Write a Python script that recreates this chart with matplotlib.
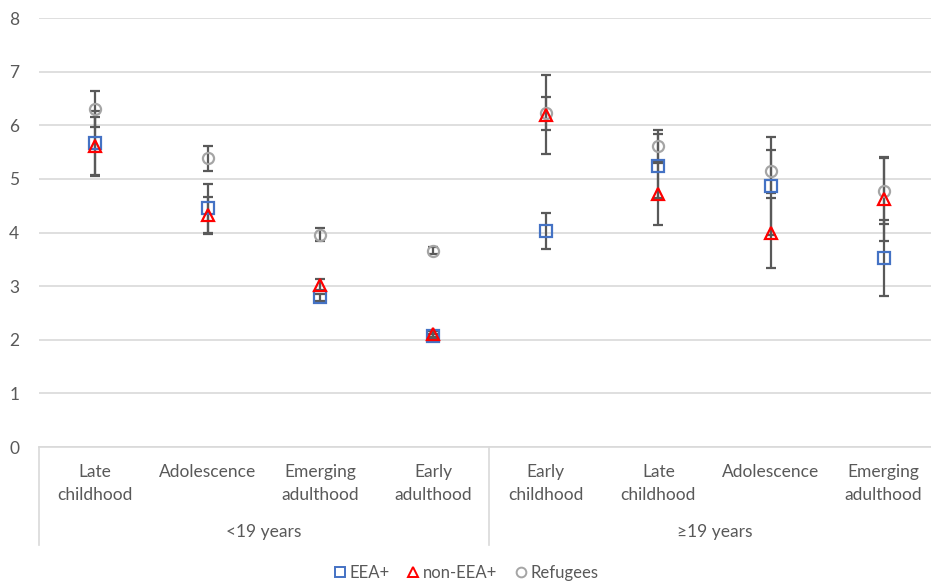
import matplotlib
matplotlib.use("Agg")
import matplotlib.pyplot as plt
from matplotlib.lines import Line2D

plt.rcParams['font.family'] = ['Lato', 'DejaVu Sans']

categories = ["Late\nchildhood", "Adolescence", "Emerging\nadulthood", "Early\nadulthood",
              "Early\nchildhood", "Late\nchildhood", "Adolescence", "Emerging\nadulthood"]
groups = ["<19 years", "\u226519 years"]
group_size = 4

eea = [5.67, 4.45, 2.79, 2.07, 4.03, 5.24, 4.87, 3.53]
eea_err = [0.60, 0.45, 0.07, 0.04, 0.33, 0.60, 0.92, 0.71]
non_eea = [5.61, 4.32, 3.03, 2.11, 6.20, 4.72, 3.99, 4.62]
non_eea_err = [0.55, 0.34, 0.10, 0.05, 0.74, 0.58, 0.66, 0.78]
refugees = [6.30, 5.38, 3.96, 3.66, 6.22, 5.62, 5.14, 4.77]
refugees_err = [0.33, 0.23, 0.12, 0.07, 0.30, 0.30, 0.40, 0.62]

txt_clr = "#595959"
grid_clr = "#D9D9D9"
err_clr = "#595959"

W, H = 931, 585
fig = plt.figure(figsize=(W / 100, H / 100), dpi=100)
# plot area runs past the right edge like the cropped original
ax = fig.add_axes([38.6 / W, (H - 447) / H, (940 - 38.6) / W, (447 - 18) / H])

xs = list(range(len(categories)))

series = [
    (eea, eea_err, "s", "#4472C4", "EEA+"),
    (refugees, refugees_err, "o", "#A5A5A5", "Refugees"),
    (non_eea, non_eea_err, "^", "#FF0000", "non-EEA+"),
]

for vals, errs, mk, clr, name in series:
    ax.errorbar(xs, vals, yerr=errs, fmt="none", ecolor=err_clr, elinewidth=1.6,
                capsize=3.8, capthick=1.6, zorder=2)
for vals, errs, mk, clr, name in series:
    ax.plot(xs, vals, linestyle="none", marker=mk, markersize=8, markerfacecolor="none",
            markeredgecolor=clr, markeredgewidth=1.6, zorder=3)

ax.set_xlim(-0.5, len(categories) - 0.5)
ax.set_ylim(0, 8)
ax.set_yticks(range(0, 9))
ax.yaxis.grid(True, color=grid_clr, linewidth=1.2)
ax.set_axisbelow(True)
for s in ["top", "right", "left"]:
    ax.spines[s].set_visible(False)
ax.spines["bottom"].set_color(grid_clr)
ax.spines["bottom"].set_linewidth(1.2)
ax.tick_params(axis="y", length=0, labelsize=12.5, labelcolor=txt_clr, pad=14)
ax.set_xticks([])

# category labels and group labels below the axis
ax_h = 447 - 18
for i, lab in enumerate(categories):
    ax.text(i, -17 / ax_h, lab, transform=ax.get_xaxis_transform(), ha="center", va="top",
            fontsize=12.5, color=txt_clr, linespacing=1.5)
for g, lab in enumerate(groups):
    mid = g * group_size + (group_size - 1) / 2
    ax.text(mid, -85 / ax_h, lab, transform=ax.get_xaxis_transform(), ha="center",
            va="center", fontsize=12.5, color=txt_clr)
for g in range(len(groups) + 1):
    xb = g * group_size - 0.5
    ax.plot([xb, xb], [0, -98 / ax_h], transform=ax.get_xaxis_transform(), color=grid_clr,
            linewidth=1.2, clip_on=False)

handles = [Line2D([], [], linestyle="none", marker="s", markersize=7, markerfacecolor="none",
                  markeredgecolor="#4472C4", markeredgewidth=1.4, label="EEA+"),
           Line2D([], [], linestyle="none", marker="^", markersize=7, markerfacecolor="none",
                  markeredgecolor="#FF0000", markeredgewidth=1.4, label="non-EEA+"),
           Line2D([], [], linestyle="none", marker="o", markersize=7, markerfacecolor="none",
                  markeredgecolor="#A5A5A5", markeredgewidth=1.4, label="Refugees")]
leg = fig.legend(handles=handles, loc="center", bbox_to_anchor=(465 / W, (H - 573) / H), ncol=3,
                 frameon=False, fontsize=12, handletextpad=0.1, columnspacing=0.9,
                 handlelength=1.0)
for t in leg.get_texts():
    t.set_color(txt_clr)

fig.savefig("out.png", dpi=100)
